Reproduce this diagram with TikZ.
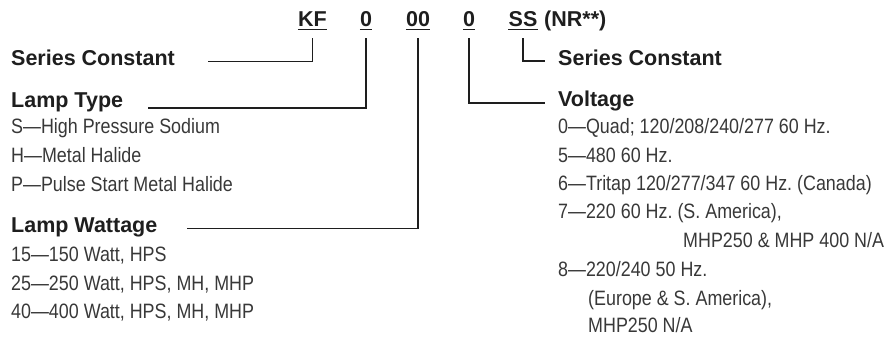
\documentclass[tikz,border=0pt]{standalone}
\usepackage{fontspec}
\setmainfont{Liberation Sans}
\newfontfamily\condfont[FakeStretch=0.86]{Liberation Sans}
\definecolor{ink}{HTML}{1E1E1E}
\definecolor{bodyc}{HTML}{383838}
\frenchspacing
\begin{document}
\frenchspacing
\begin{tikzpicture}[x=1pt,y=-1pt,
  head/.style={anchor=base west, inner sep=0pt, font=\bfseries\fontsize{21.5}{26}\selectfont, text=ink},
  body/.style={anchor=base west, inner sep=0pt, font=\condfont\frenchspacing\fontsize{20.8}{24}\selectfont, text=bodyc},
  code/.style={anchor=base, inner sep=0pt, text depth=0pt, font=\bfseries\fontsize{21.5}{26}\selectfont, text=ink},
  conn/.style={draw=ink, line width=1.2pt},
  uline/.style={draw=ink, line width=1.3pt}]
\useasboundingbox (0,0) rectangle (893,340);

% code row
\node[code] (kf) at (312.5,26) {KF};
\node[code] (c0) at (366,26) {0};
\node[code] (c00) at (418,26) {00};
\node[code] (cv) at (469,26) {0};
\node[code] (ss) at (523,26) {SS};
\node[code, anchor=base west] (nr) at (544,26) {(NR**)};

\foreach \n in {kf,c0,c00,cv,ss}
  \draw[uline] ([yshift=-3.5pt]\n.base west) -- ([yshift=-3.5pt]\n.base east);

% left headings and items
\node[head] (sc1) at (11,65) {Series Constant};
\node[head] (ltype) at (11,107) {Lamp Type};
\node[body] (lt1) at (11,133) {S—High Pressure Sodium};
\node[body] (lt2) at (11,162) {H—Metal Halide};
\node[body] (lt3) at (11,191) {P—Pulse Start Metal Halide};
\node[head] (lwatt) at (11,232) {Lamp Wattage};
\node[body] (lw1) at (11,261) {15—150 Watt, HPS};
\node[body] (lw2) at (11,290) {25—250 Watt, HPS, MH, MHP};
\node[body] (lw3) at (11,318) {40—400 Watt, HPS, MH, MHP};

% right headings and items
\node[head] (sc2) at (558,65) {Series Constant};
\node[head] (volt) at (558,106) {Voltage};
\node[body] (v1) at (558,133) {0—Quad; 120/208/240/277 60 Hz.};
\node[body] (v2) at (558,162) {5—480 60 Hz.};
\node[body] (v3) at (558,190) {6—Tritap 120/277/347 60 Hz. (Canada)};
\node[body] (v4) at (558,218) {7—220 60 Hz. (S. America),};
\node[body] (v4b) at (683,247.5) {MHP250 \& MHP 400 N/A};
\node[body] (v5) at (558,276.5) {8—220/240 50 Hz.};
\node[body] (v5b) at (588,305) {(Europe \& S. America),};
\node[body] (v5c) at (588,332) {MHP250 N/A};

% connector ends
\coordinate (e1) at (208,61.5);
\coordinate (e2) at (148,108);
\coordinate (e3) at (187,228.5);
\coordinate (e4) at (545,103);
\coordinate (e5) at (545,61);

\draw[conn] ([yshift=-12pt]kf.base) |- (e1);
\draw[conn] ([yshift=-12pt]c0.base) |- (e2);
\draw[conn] ([yshift=-12pt]c00.base) |- (e3);
\draw[conn] ([yshift=-12pt]cv.base) |- (e4);
\draw[conn] ([yshift=-12pt]ss.base) |- (e5);
\end{tikzpicture}
\end{document}
